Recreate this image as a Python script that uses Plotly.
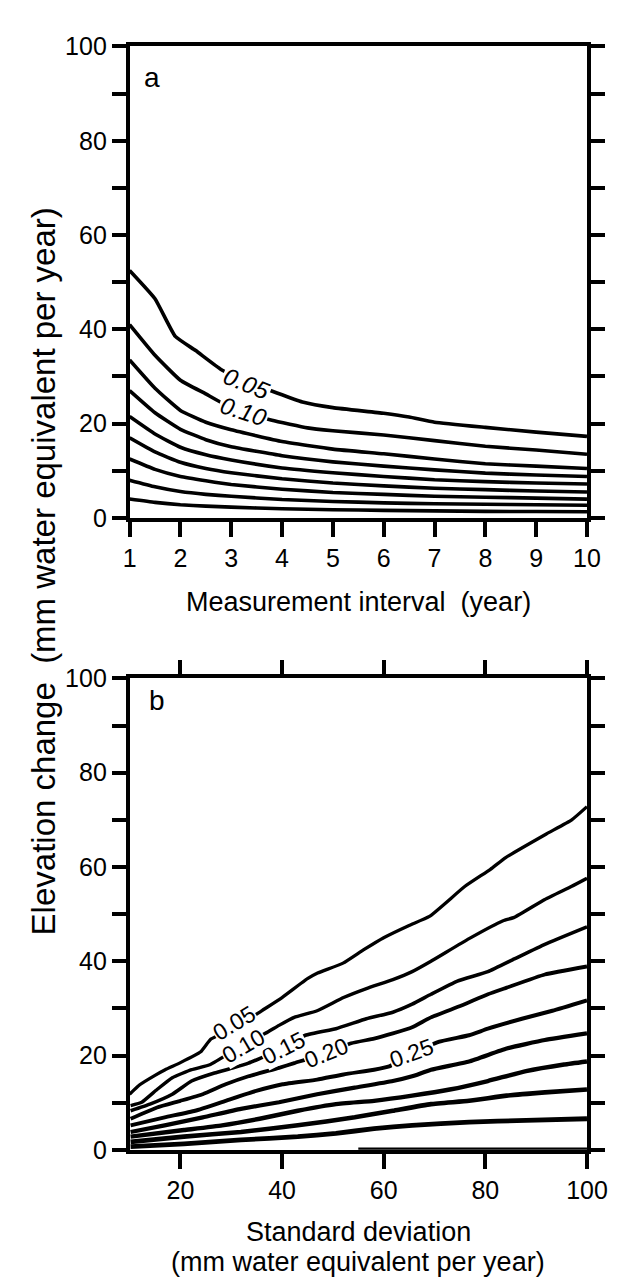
import plotly.graph_objects as go

# ---------------- Panel a: elevation change vs measurement interval ----------------
a_x005 = [1, 1.5, 1.9, 2.3, 2.8, 3.3, 3.9, 4.4, 5, 6, 6.5, 7, 8, 9, 10]
a_x010 = [1, 1.5, 2, 2.5, 2.8, 3.2, 3.8, 4.5, 5, 6, 7, 8, 9, 10]
interval_common = [1, 1.5, 2, 2.5, 3, 4, 5, 6, 7, 8, 9, 10]

a_p005 = [52.5, 46.5, 38.5, 35.5, 31.5, 29.0, 26.5, 24.6, 23.4, 22.2, 21.4, 20.3, 19.2, 18.2, 17.3]
a_p010 = [41.0, 34.5, 29.2, 26.3, 24.5, 22.8, 20.7, 19.1, 18.5, 17.6, 16.4, 15.2, 14.4, 13.5]
a_p015 = [33.5, 27.5, 22.8, 20.3, 18.7, 16.2, 14.6, 13.6, 12.5, 11.5, 11.0, 10.5]
a_p020 = [27.0, 22.3, 18.8, 16.6, 15.1, 13.2, 11.9, 11.0, 10.2, 9.5, 9.1, 8.8]
a_p025 = [21.5, 17.8, 15.0, 13.4, 12.3, 10.6, 9.6, 8.8, 8.1, 7.7, 7.4, 7.2]
a_p030 = [17.0, 14.0, 11.8, 10.5, 9.6, 8.3, 7.4, 6.8, 6.3, 6.0, 5.7, 5.5]
a_p035 = [12.5, 10.3, 8.8, 7.9, 7.1, 6.1, 5.4, 5.0, 4.6, 4.4, 4.2, 4.0]
a_p040 = [8.0, 6.6, 5.6, 5.0, 4.6, 3.9, 3.5, 3.2, 3.0, 2.9, 2.8, 2.7]
a_p045 = [4.0, 3.3, 2.8, 2.5, 2.3, 1.95, 1.75, 1.6, 1.5, 1.4, 1.35, 1.3]

# ---------------- Panel b: elevation change vs standard deviation ----------------
b_x005 = [10, 12, 15, 17, 20, 24, 26, 31, 36, 40, 45, 47, 52, 56, 60, 65, 69, 76, 81, 84, 92, 97, 100]
b_p005 = [11.8, 13.8, 15.8, 17.0, 18.5, 20.8, 23.5, 26.0, 29.5, 32.3, 36.3, 37.5, 39.6, 42.4, 45.0, 47.6, 49.5, 55.9, 59.5, 62.0, 67.0, 70.0, 72.8]
b_x010 = [10.2, 12.4, 15.4, 18.4, 22.2, 25.9, 31.9, 37.2, 39.4, 42.4, 46.9, 52.1, 56.6, 61.8, 65.6, 69.3, 76.8, 83.5, 85.7, 91.7, 97, 100]
b_p010 = [9.4, 10.1, 12.8, 15.3, 17.0, 18.1, 22.0, 25.0, 26.4, 28.1, 29.5, 32.3, 34.2, 36.1, 37.8, 40.0, 44.8, 48.6, 49.3, 53.1, 55.9, 57.6]
b_x015 = [10.2, 14, 18.4, 22.2, 26.7, 30.4, 33.4, 40.1, 44.6, 50.6, 56.6, 61.8, 65.6, 69.3, 74.5, 80.5, 85.7, 91.7, 100]
b_p015 = [8.3, 9.7, 11.8, 14.6, 16.3, 17.4, 18.4, 21.5, 24.3, 25.7, 27.8, 29.2, 30.9, 33.0, 35.8, 37.8, 40.5, 43.6, 47.3]
b_x020 = [10.2, 15.4, 20, 24.4, 28.9, 33.4, 39.4, 42.4, 48.7, 53.6, 58.1, 61.8, 65.6, 69.3, 75.3, 80.5, 84.2, 91.7, 100]
b_p020 = [6.6, 9.0, 10.4, 11.8, 13.9, 15.6, 17.4, 18.4, 20.5, 22.6, 23.6, 24.7, 26.0, 28.1, 30.6, 33.0, 34.4, 37.2, 38.9]
b_x025 = [10.2, 16.9, 22.9, 28.9, 34.9, 40.1, 46.9, 52.1, 58.1, 61.1, 65.5, 70.8, 76.8, 80.5, 87.2, 93.2, 100]
b_p025 = [5.2, 6.9, 8.3, 10.4, 12.5, 13.9, 14.9, 16.0, 17.0, 17.7, 20.3, 22.9, 24.3, 25.7, 27.8, 29.5, 31.7]
b_x030 = [10.2, 16.9, 24.4, 31.9, 39.4, 46.9, 54.3, 61.8, 65.6, 69.3, 76.8, 84.2, 91.7, 100]
b_p030 = [3.8, 5.2, 6.9, 8.7, 10.1, 11.8, 13.2, 14.6, 15.6, 17.0, 18.75, 21.5, 23.3, 24.7]
b_x035 = [10.2, 20.7, 28.2, 35.6, 43.1, 50.6, 58.1, 65.6, 73, 80.5, 88, 95.5, 100]
b_p035 = [2.8, 4.2, 5.2, 6.6, 8.3, 9.7, 10.4, 11.5, 12.8, 14.6, 16.7, 18.1, 18.75]
b_x040 = [10.2, 20.7, 31.9, 43.1, 54.3, 61.8, 69.3, 76.8, 84.2, 91.7, 100]
b_p040 = [1.7, 2.8, 3.8, 5.2, 6.9, 8.3, 9.7, 10.4, 11.5, 12.2, 12.8]
b_x045 = [10.2, 20.7, 31.9, 43.1, 50.6, 58.1, 65.6, 76.8, 88, 100]
b_p045 = [0.7, 1.25, 2.1, 2.8, 3.5, 4.5, 5.2, 5.9, 6.25, 6.6]
b_x050 = [55, 100]
b_p050 = [0.0, 0.0]

# tick definitions
a_xticks = list(range(1, 11))
a_xticks_top = [2, 4, 6, 8, 10]
b_xticks = [20, 40, 60, 80, 100]
y_ticks = list(range(0, 101, 10))
y_ticktext = [str(v) if v % 20 == 0 else "" for v in y_ticks]

# contour labels: (text, x, y, angle)
a_labels = [("0.05", 3.3, 28.5, 22), ("0.10", 3.25, 22.6, 18)]
b_labels = [("0.25", 65.5, 20.6, -20), ("0.20", 48.7, 20.5, -22),
            ("0.15", 40.3, 21.7, -27), ("0.10", 32.4, 22.0, -30),
            ("0.05", 30.6, 26.8, -31)]

FONT = "Liberation Sans, Arial, Helvetica, sans-serif"
W, H = 621, 1284
X0, X1 = 120, 599
A_TOP, A_BOT = 25, 507
B_TOP, B_BOT = 671, 1153


def px(v):
    return v / W


def py(v):
    return 1 - v / H


fig = go.Figure()

line_style = dict(color="black", width=3.6, shape="spline", smoothing=0.4)

a_series = [
    (a_x005, a_p005), (a_x010, a_p010),
    (interval_common, a_p015), (interval_common, a_p020), (interval_common, a_p025),
    (interval_common, a_p030), (interval_common, a_p035), (interval_common, a_p040),
    (interval_common, a_p045),
]
for xs, ys in a_series:
    fig.add_trace(go.Scatter(x=xs, y=ys, mode="lines", line=line_style,
                             xaxis="x", yaxis="y", showlegend=False, hoverinfo="skip"))

b_series = [(b_x005, b_p005), (b_x010, b_p010), (b_x015, b_p015),
            (b_x020, b_p020), (b_x025, b_p025), (b_x030, b_p030),
            (b_x035, b_p035), (b_x040, b_p040), (b_x045, b_p045),
            (b_x050, b_p050)]
b_widths = [3.3, 3.4, 3.6, 3.8, 4.0, 4.2, 4.4, 4.6, 4.8, 4.8]
for (xs, ys), w in zip(b_series, b_widths):
    st = dict(line_style)
    st["width"] = w
    fig.add_trace(go.Scatter(x=xs, y=ys, mode="lines", line=st,
                             xaxis="x2", yaxis="y2", showlegend=False, hoverinfo="skip"))

axis_common = dict(showgrid=False, zeroline=False, showline=True, linewidth=3.5,
                   linecolor="black", ticks="outside", tickwidth=3.5, tickcolor="black",
                   tickfont=dict(family=FONT, size=25, color="black"))

xdom = [px(X0), px(X1)]
fig.update_layout(
    width=W, height=H,
    margin=dict(l=0, r=0, t=0, b=0),
    paper_bgcolor="white", plot_bgcolor="white",
    font=dict(family=FONT, color="black"),
    xaxis=dict(axis_common, domain=xdom, anchor="y", range=[1, 10],
               tickvals=a_xticks, ticklen=15, mirror=True),
    xaxis3=dict(axis_common, domain=xdom, anchor="y", overlaying="x", side="top",
                range=[1, 10], tickvals=a_xticks_top, ticklen=15,
                showticklabels=False, showline=False),
    yaxis=dict(axis_common, domain=[py(A_BOT), py(A_TOP)], anchor="x", range=[0, 100],
               tickvals=y_ticks, ticktext=y_ticktext, ticklen=14, mirror="ticks"),
    xaxis2=dict(axis_common, domain=xdom, anchor="y2", range=[10, 100],
                tickvals=b_xticks, ticklen=15, mirror="ticks"),
    yaxis2=dict(axis_common, domain=[py(B_BOT), py(B_TOP)], anchor="x2", range=[0, 100],
                tickvals=y_ticks, ticktext=y_ticktext, ticklen=14, mirror="ticks"),
)

ann = []
for text, x, y, ang in a_labels:
    ann.append(dict(xref="x", yref="y", x=x, y=y, text="<i>" + text + "</i>",
                    textangle=ang, showarrow=False, bgcolor="white", borderpad=1,
                    font=dict(family=FONT, size=24, color="black")))
for text, x, y, ang in b_labels:
    ann.append(dict(xref="x2", yref="y2", x=x, y=y, text=text,
                    textangle=ang, showarrow=False, bgcolor="white", borderpad=0,
                    font=dict(family=FONT, size=23, color="black")))

title_font = dict(family=FONT, size=27, color="black")
ann += [
    dict(xref="paper", yref="paper", x=px((X0 + X1) / 2), y=py(593),
         text="Measurement interval  (year)", showarrow=False, font=title_font,
         xanchor="center", yanchor="middle"),
    dict(xref="paper", yref="paper", x=px((X0 + X1) / 2), y=py(1237),
         text="Standard deviation", showarrow=False, font=title_font,
         xanchor="center", yanchor="middle"),
    dict(xref="paper", yref="paper", x=px((X0 + X1) / 2), y=py(1268),
         text="(mm water equivalent per year)", showarrow=False, font=title_font,
         xanchor="center", yanchor="middle"),
    dict(xref="paper", yref="paper", x=px(30), y=py(562),
         text="Elevation change  (mm water equivalent per year)", showarrow=False,
         font=dict(family=FONT, size=33, color="black"), textangle=-90,
         xanchor="center", yanchor="middle"),
    dict(xref="paper", yref="paper", x=px(143), y=py(57), text="a", showarrow=False,
         font=dict(family=FONT, size=28, color="black"), xanchor="center", yanchor="middle"),
    dict(xref="paper", yref="paper", x=px(149), y=py(694), text="b", showarrow=False,
         font=dict(family=FONT, size=28, color="black"), xanchor="center", yanchor="middle"),
]
fig.update_layout(annotations=ann)

fig.write_html("out.html")
